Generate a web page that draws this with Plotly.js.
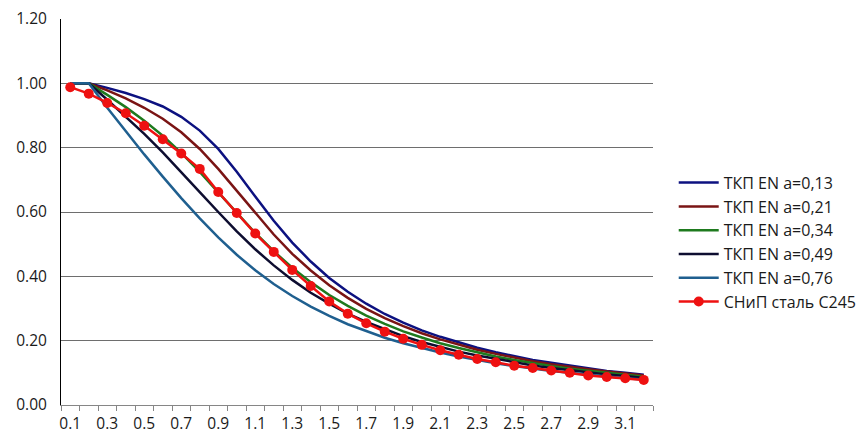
<!DOCTYPE html>
<html><head><meta charset="utf-8">
<script src="https://cdn.plot.ly/plotly-3.0.1.min.js"></script>
<style>html,body{margin:0;padding:0;background:#fff}#chart{width:863px;height:438px}</style>
</head><body><div id="chart"></div>
<script>
const lambdas = [0.1,0.2,0.3,0.4,0.5,0.6,0.7,0.8,0.9,1.0,1.1,1.2,1.3,1.4,1.5,1.6,1.7,1.8,1.9,2.0,2.1,2.2,2.3,2.4,2.5,2.6,2.7,2.8,2.9,3.0,3.1,3.2];
const tickLabels = ["0.1","0.3","0.5","0.7","0.9","1.1","1.3","1.5","1.7","1.9","2.1","2.3","2.5","2.7","2.9","3.1"];
const tickPositions = [0.1,0.3,0.5,0.7,0.9,1.1,1.3,1.5,1.7,1.9,2.1,2.3,2.5,2.7,2.9,3.1];
const seriesNames = ["ТКП EN a=0,13","ТКП EN a=0,21","ТКП EN a=0,34","ТКП EN a=0,49","ТКП EN a=0,76","СНиП сталь С245"];
const en013 = [1,1,0.986,0.970,0.951,0.928,0.896,0.853,0.796,0.725,0.648,0.573,0.505,0.446,0.395,0.352,0.315,0.283,0.256,0.232,0.212,0.194,0.178,0.164,0.152,0.140,0.131,0.122,0.114,0.106,0.100,0.094];
const en021 = [1,1,0.978,0.953,0.924,0.890,0.848,0.796,0.734,0.666,0.596,0.530,0.470,0.418,0.372,0.333,0.299,0.270,0.245,0.223,0.204,0.187,0.172,0.159,0.147,0.136,0.127,0.118,0.111,0.104,0.097,0.092];
const en034 = [1,1,0.964,0.926,0.884,0.837,0.784,0.725,0.661,0.597,0.535,0.478,0.427,0.382,0.342,0.308,0.278,0.252,0.229,0.210,0.192,0.177,0.163,0.151,0.140,0.130,0.121,0.113,0.106,0.099,0.094,0.088];
const en049 = [1,1,0.949,0.897,0.843,0.785,0.725,0.662,0.600,0.540,0.484,0.434,0.389,0.349,0.315,0.284,0.258,0.235,0.214,0.196,0.180,0.166,0.154,0.143,0.133,0.123,0.115,0.108,0.101,0.095,0.090,0.084];
const en076 = [1,1,0.924,0.850,0.779,0.710,0.643,0.580,0.521,0.467,0.419,0.376,0.339,0.306,0.277,0.251,0.229,0.209,0.192,0.177,0.163,0.151,0.140,0.130,0.121,0.113,0.106,0.100,0.094,0.088,0.083,0.079];
const snip = [0.988,0.968,0.939,0.907,0.868,0.826,0.782,0.734,0.662,0.597,0.533,0.476,0.420,0.370,0.322,0.284,0.254,0.228,0.206,0.187,0.170,0.156,0.143,0.133,0.122,0.115,0.107,0.100,0.092,0.087,0.083,0.078];
const yTicks = [0,0.2,0.4,0.6,0.8,1.0,1.2];

const colors = ["#0c1180","#7a1414","#1e7a1e","#0d0d30","#1f5f8f","#ee1111"];
const enSeries = [en013,en021,en034,en049,en076];
const traces = enSeries.map((ys,i)=>({
  x: lambdas, y: ys, type:'scatter', mode:'lines', name: seriesNames[i],
  line:{color:colors[i], width:2.5}
}));
traces.push({x: lambdas, y: snip, type:'scatter', mode:'lines+markers', name: seriesNames[5],
  line:{color:colors[5], width:2.5}, marker:{color:colors[5], size:10}});

const fam = '"Open Sans", "Liberation Sans", sans-serif';
const layout = {
  width:863, height:438,
  margin:{l:61, r:210, t:19, b:33, autoexpand:false},
  paper_bgcolor:'#fff', plot_bgcolor:'#fff',
  font: {family:fam, size:15, color:'#1a1a1a'},
  showlegend:true,
  legend:{x:1.035, y:0.62, xanchor:'left', yanchor:'top', font:{family:fam, size:16, color:'#1a1a1a'}, tracegroupgap:0, itemwidth:40},
  xaxis:{range:[0.05,3.25], tickmode:'array', tickvals:tickPositions, ticktext:tickLabels,
    ticks:'', showgrid:false, zeroline:false, showline:true, linecolor:'#868686', linewidth:1,
    ticklabelstandoff:4,
    tickfont:{family:fam, size:15.5, color:'#1a1a1a'},
    minor:{tick0:0.05, dtick:0.1, ticks:'outside', ticklen:5, tickcolor:'#868686', tickwidth:1, showgrid:false}},
  yaxis:{range:[0,1.2], tickmode:'array', tickvals:yTicks, tickformat:'.2f', showgrid:true, gridcolor:'#6e6e6e', gridwidth:1,
    zeroline:false, showline:true, linecolor:'#000', linewidth:1, ticks:'outside', ticklen:10, tickcolor:'rgba(0,0,0,0)',
    tickfont:{family:fam, size:15.5, color:'#1a1a1a'}}
};
Plotly.newPlot('chart', traces, layout, {displayModeBar:false, staticPlot:true});
</script></body></html>
